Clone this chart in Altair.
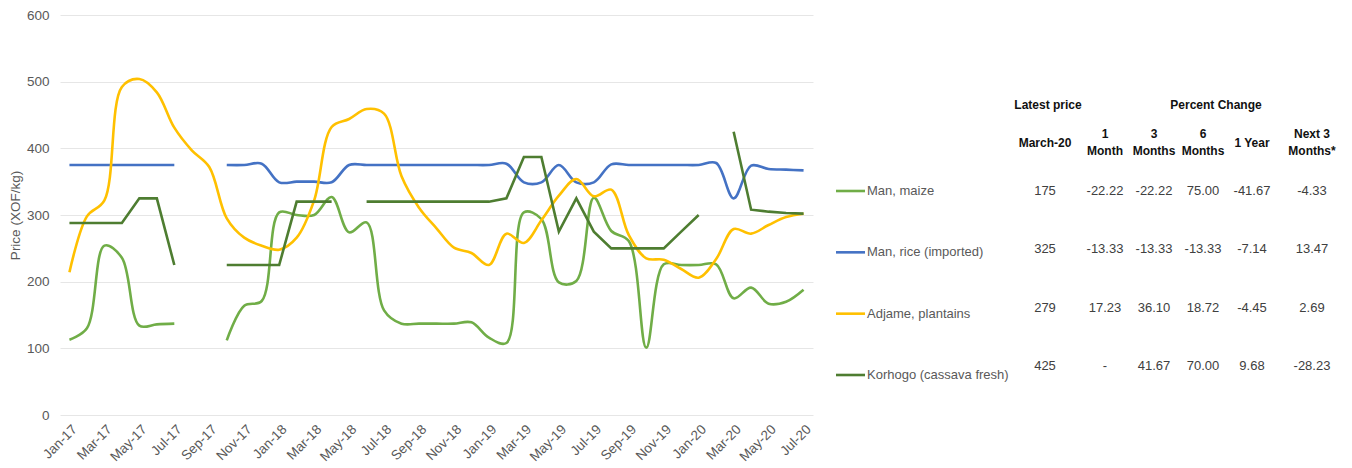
import altair as alt
import pandas as pd

# ---------------- data ----------------
months = ["Jan-17", "Feb-17", "Mar-17", "Apr-17", "May-17", "Jun-17", "Jul-17", "Aug-17", "Sep-17",
          "Oct-17", "Nov-17", "Dec-17", "Jan-18", "Feb-18", "Mar-18", "Apr-18", "May-18", "Jun-18",
          "Jul-18", "Aug-18", "Sep-18", "Oct-18", "Nov-18", "Dec-18", "Jan-19", "Feb-19", "Mar-19",
          "Apr-19", "May-19", "Jun-19", "Jul-19", "Aug-19", "Sep-19", "Oct-19", "Nov-19", "Dec-19",
          "Jan-20", "Feb-20", "Mar-20", "Apr-20", "May-20", "Jun-20", "Jul-20"]

series_names = ["Man, maize", "Man, rice (imported)", "Adjame, plantains", "Korhogo (cassava fresh)"]

maize = [113, 130, 254, 236, 134, 136, 137, None, None, 112, 164, 171, 304, 300, 300, 327, 274, 289,
         157, 137, 137, 137, 137, 139, 116, 108, 304, 294, 199, 201, 326, 276, 261, 101, 226, 225,
         225, 226, 175, 191, 167, 170, 188]

rice = [375, 375, 375, 375, 375, 375, 375, None, None, 375, 375, 377, 349, 350, 350, 349, 375, 375,
        375, 375, 375, 375, 375, 375, 375, 377, 349, 349, 375, 349, 349, 376, 375, 375, 375, 375,
        375, 378, 325, 374, 369, 368, 367]

plantains = [214, 298, 322, 492, 504, 484, 431, 397, 372, 295, 266, 254, 248, 266, 322, 432, 444, 459,
             452, 358, 311, 280, 251, 243, 225, 272, 258, 292, 329, 354, 328, 338, 270, 235, 233, 219,
             206, 234, 279, 272, 285, 297, 302]

korhogo = [288, 288, 288, 288, 325, 325, 225, None, None, 225, 225, 225, 225, 320, 320, 320, None, 320,
           320, 320, 320, 320, 320, 320, 320, 325, 387, 387, 275, 325, 275, 250, 250, 250, 250, 275,
           300, None, 425, 308, 305, 303, 302]

colors = ["#70AD47", "#4472C4", "#FFC000", "#4E7D31"]

latest_price = ["175", "325", "279", "425"]
chg_1_month = ["-22.22", "-13.33", "17.23", "-"]
chg_3_months = ["-22.22", "-13.33", "36.10", "41.67"]
chg_6_months = ["75.00", "-13.33", "18.72", "70.00"]
chg_1_year = ["-41.67", "-7.14", "-4.45", "9.68"]
chg_next_3 = ["-4.33", "13.47", "2.69", "-28.23"]

group_headers = ["Latest price", "Percent Change"]
col_headers = ["March-20", "1\nMonth", "3\nMonths", "6\nMonths", "1 Year", "Next 3\nMonths*"]

# ---------------- tables ----------------
rows = []
for name, vals in zip(series_names, [maize, rice, plantains, korhogo]):
    for m, v in zip(months, vals):
        rows.append({"month": m, "series": name, "price": v})
df = pd.DataFrame(rows)

table_df = pd.DataFrame({
    "series": series_names,
    "latest": latest_price,
    "m1": chg_1_month,
    "m3": chg_3_months,
    "m6": chg_6_months,
    "y1": chg_1_year,
    "next3": chg_next_3,
})
legend_df = pd.DataFrame({"series": series_names})

FONT = "Liberation Sans"
GRAY = "#595959"

# ---------------- line panel ----------------
x_enc = alt.X("month:O",
              scale=alt.Scale(type="point", domain=months, padding=0.54),
              axis=alt.Axis(values=months[::2], labelAngle=-45, ticks=False, domain=False,
                            grid=False, labelPadding=7, title=None))
y_enc = alt.Y("price:Q",
              scale=alt.Scale(domain=[0, 600], nice=False),
              axis=alt.Axis(values=[0, 100, 200, 300, 400, 500, 600], title="Price (XOF/kg)",
                            ticks=False, tickSize=0, domain=False, grid=True, gridColor="#E6E6E6",
                            gridWidth=1, labelPadding=11, titlePadding=4))

line_layers = []
for name, col in zip(series_names, colors):
    interp = "linear" if name.startswith("Korhogo") else "catmull-rom"
    line_layers.append(
        alt.Chart(df)
        .transform_filter(alt.datum.series == name)
        .mark_line(interpolate=interp, color=col, strokeWidth=2.6)
        .encode(x=x_enc, y=y_enc)
    )
lines = alt.layer(*line_layers).properties(width=753, height=400)

# ---------------- table panel ----------------
row_scale_leg = alt.Scale(type="point", domain=series_names, range=[176, 360], padding=0)
row_scale_val = alt.Scale(type="point", domain=series_names, range=[176, 351], padding=0)

b_layers = []
b_layers.append(
    alt.Chart(legend_df).mark_rule(strokeWidth=2.6).encode(
        x=alt.value(14), x2=alt.value(43),
        y=alt.Y("series:N", scale=row_scale_leg, axis=None),
        color=alt.Color("series:N", scale=alt.Scale(domain=series_names, range=colors), legend=None),
    )
)
b_layers.append(
    alt.Chart(legend_df).mark_text(align="left", baseline="middle", fontSize=13, color=GRAY, font=FONT).encode(
        x=alt.value(45),
        y=alt.Y("series:N", scale=row_scale_leg, axis=None),
        text="series:N",
    )
)

col_fields = ["latest", "m1", "m3", "m6", "y1", "next3"]
col_x = [223, 283, 332, 381, 430, 490]
for f, h, px in zip(col_fields, col_headers, col_x):
    b_layers.append(
        alt.Chart(table_df).mark_text(align="center", baseline="middle", fontSize=13,
                                      color="#404040", font=FONT).encode(
            x=alt.value(px),
            y=alt.Y("series:N", scale=row_scale_val, axis=None),
            text=f"{f}:N",
        )
    )
    multi = "\n" in h
    b_layers.append(
        alt.Chart(pd.DataFrame({"h": [h]})).mark_text(
            align="center", baseline="middle", fontSize=12, fontWeight="bold",
            color="#111111", font=FONT, lineBreak="\n", lineHeight=17).encode(
            x=alt.value(px), y=alt.value(119 if multi else 127.5), text="h:N")
    )

for h, px in zip(group_headers, [226, 394]):
    b_layers.append(
        alt.Chart(pd.DataFrame({"h": [h]})).mark_text(
            align="center", baseline="middle", fontSize=12, fontWeight="bold",
            color="#111111", font=FONT).encode(
            x=alt.value(px), y=alt.value(89.5), text="h:N")
    )

table = alt.layer(*b_layers).resolve_scale(y="independent").properties(width=520, height=400)

chart = (
    alt.hconcat(lines, table, spacing=8)
    .properties(padding=0)
    .configure_view(stroke=None)
    .configure_axis(labelFont=FONT, labelFontSize=13.5, labelColor=GRAY,
                    titleFont=FONT, titleFontSize=13.5, titleColor=GRAY, titleFontWeight="normal")
    .configure_text(font=FONT)
)

chart.save("out.html", embed_options={"renderer": "svg", "actions": False})
